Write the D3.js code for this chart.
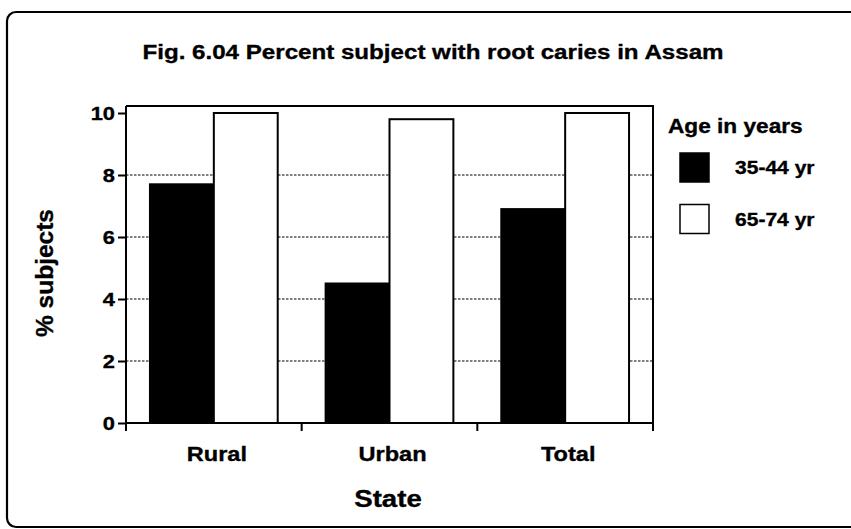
<!DOCTYPE html>
<html>
<head>
<meta charset="utf-8">
<script src="https://cdn.jsdelivr.net/npm/d3@7"></script>
<style>
  html, body { margin: 0; padding: 0; background: #fff; }
  svg text { font-family: "Liberation Sans", Arial, Helvetica, sans-serif; font-weight: bold; fill: #000; stroke: #000; stroke-width: 0.35px; }
</style>
</head>
<body>
<svg id="chart" width="851" height="529"></svg>
<script>
// Data: percent of subjects with root caries, by locality and age group
const categories = ["Rural", "Urban", "Total"];
const seriesNames = ["35-44 yr", "65-74 yr"];
const values35to44 = [7.7, 4.5, 6.9];
const values65to74 = [10.0, 9.8, 10.0];
const yTicks = [0, 2, 4, 6, 8, 10];
const gridValues = [2, 4, 6, 8];
const seriesFill = ["#000", "#fff"];

const rows = categories.map((c, i) => ({ category: c, values: [values35to44[i], values65to74[i]] }));

// Slightly widened bold lettering
const SX = 1.15;
function label(parent, x, y, size, str, anchor) {
  return parent.append("text")
    .attr("transform", `translate(${x},${y}) scale(${SX},1)`)
    .attr("text-anchor", anchor || "start")
    .attr("font-size", size)
    .text(str);
}

const svg = d3.select("#chart");

// Outer rounded border (runs off the right edge)
svg.append("rect")
  .attr("x", 7).attr("y", 12)
  .attr("width", 870).attr("height", 515)
  .attr("rx", 9).attr("ry", 9)
  .attr("fill", "none").attr("stroke", "#000").attr("stroke-width", 2.2);

// Title
label(svg, 433, 59, 21, "Fig. 6.04 Percent subject with root caries in Assam", "middle");

const plotLeft = 126, plotRight = 653;
const y = d3.scaleLinear().domain([0, 10]).range([423, 113]);
const plotTop = y(10) - 7;

const x = d3.scaleBand().domain(categories).range([plotLeft, plotRight]).paddingInner(0).paddingOuter(0);
const xs = d3.scaleBand().domain(seriesNames).range([0, x.bandwidth()]).paddingInner(0).paddingOuter(0.375);

// Dotted grid lines
svg.append("g").selectAll("line").data(gridValues).join("line")
  .attr("x1", plotLeft).attr("x2", plotRight)
  .attr("y1", d => y(d)).attr("y2", d => y(d))
  .attr("stroke", "#000").attr("stroke-width", 1.2)
  .attr("stroke-dasharray", "2.5,1.5");

// Plot frame: top and right edges
svg.append("path")
  .attr("d", `M${plotLeft},${plotTop}H${plotRight}V${y(0)}`)
  .attr("fill", "none").attr("stroke", "#000").attr("stroke-width", 2);

// Bars
const groups = svg.append("g").selectAll("g").data(rows).join("g")
  .attr("transform", d => `translate(${x(d.category)},0)`);
groups.selectAll("rect").data(d => d.values.map((v, i) => ({ v, i }))).join("rect")
  .attr("x", d => xs(seriesNames[d.i]))
  .attr("width", xs.bandwidth())
  .attr("y", d => y(d.v))
  .attr("height", d => y(0) - y(d.v))
  .attr("fill", d => seriesFill[d.i])
  .attr("stroke", "#000").attr("stroke-width", 2);

// Y axis
const yAxis = svg.append("g")
  .attr("transform", `translate(${plotLeft},0)`)
  .call(d3.axisLeft(y).tickValues(yTicks).tickFormat(d3.format("d")).tickSize(8).tickPadding(3));
yAxis.select(".domain").attr("d", `M0,${plotTop}V${y(0)}`).attr("stroke-width", 2);
yAxis.selectAll(".tick line").attr("stroke-width", 2);
yAxis.selectAll(".tick text")
  .attr("font-size", 19).attr("font-family", null)
  .attr("x", -11 / SX).attr("dy", "0.36em")
  .attr("transform", `scale(${SX},1)`);

// X axis: ticks at category boundaries
const xAxisG = svg.append("g").attr("transform", `translate(0,${y(0)})`);
xAxisG.append("line").attr("x1", plotLeft).attr("x2", plotRight)
  .attr("stroke", "#000").attr("stroke-width", 2);
const boundaries = categories.map(c => x(c)).concat([plotRight]);
xAxisG.selectAll(".bnd").data(boundaries).join("line").attr("class", "bnd")
  .attr("x1", d => d).attr("x2", d => d).attr("y1", 0).attr("y2", 8)
  .attr("stroke", "#000").attr("stroke-width", 2);
categories.forEach(c => label(xAxisG, x(c) + x.bandwidth() / 2 + 3, 38, 20.5, c, "middle"));

// Axis titles
label(svg, 388, 507, 24, "State", "middle");
svg.append("text")
  .attr("transform", "translate(53,273) rotate(-90)")
  .attr("text-anchor", "middle")
  .attr("font-size", 24.5)
  .text("% subjects");

// Legend
const legend = svg.append("g");
label(legend, 668, 133, 19.7, "Age in years");
const legendRows = legend.selectAll(".item").data(seriesNames).join("g").attr("class", "item")
  .attr("transform", (d, i) => `translate(680,${153 + i * 51.5})`);
legendRows.append("rect")
  .attr("width", 29).attr("height", 29)
  .attr("fill", (d, i) => seriesFill[i])
  .attr("stroke", "#000").attr("stroke-width", 1.5);
legendRows.each(function (d) { label(d3.select(this), 55, 21, 18.3, d); });
</script>
</body>
</html>
